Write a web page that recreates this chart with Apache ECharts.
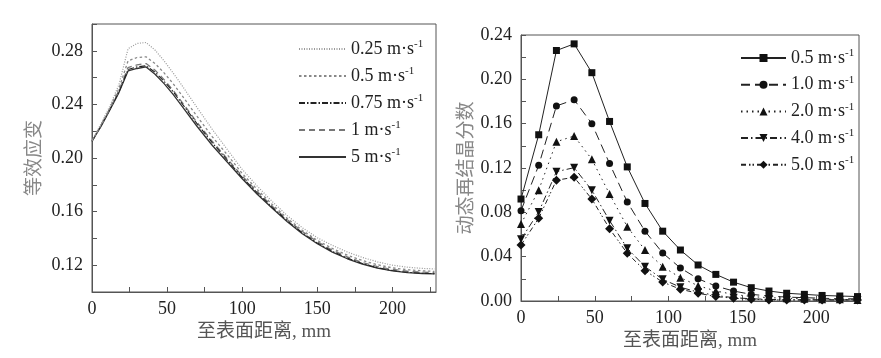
<!DOCTYPE html>
<html>
<head>
<meta charset="utf-8">
<script src="https://cdn.jsdelivr.net/npm/echarts@6/dist/echarts.min.js"></script>
<style>
html,body{margin:0;padding:0;background:#fff;}
#chart{width:881px;height:358px;}
</style>
</head>
<body>
<div id="chart"></div>
<script>
// ---- Left chart: 等效应变 ----
var leftX = [0,6,12,18,24,30,36,42,48,54,60,70,80,90,100,110,120,130,140,150,160,170,180,190,200,210,220,228];
var leftNames = ['0.25','0.5','0.75','1','5'];
var strain025 = [0.213,0.2255,0.239,0.255,0.2815,0.2855,0.2862,0.2805,0.2725,0.2635,0.254,0.2375,0.2215,0.2065,0.1915,0.179,0.1675,0.157,0.148,0.1405,0.1348,0.1298,0.1258,0.1225,0.12,0.1185,0.1176,0.1172];
var strain05  = [0.213,0.2245,0.2375,0.252,0.2725,0.275,0.2755,0.2705,0.2635,0.2555,0.2465,0.231,0.216,0.2025,0.1885,0.1765,0.1653,0.155,0.146,0.1385,0.1325,0.1275,0.1235,0.1203,0.118,0.1166,0.1158,0.1154];
var strain075 = [0.2125,0.224,0.2365,0.2495,0.266,0.268,0.2688,0.264,0.2572,0.2495,0.2405,0.2255,0.2115,0.1985,0.1855,0.174,0.1632,0.1532,0.1442,0.1366,0.1303,0.1253,0.1212,0.1181,0.116,0.1147,0.114,0.1137];
var strain1   = [0.2125,0.224,0.237,0.2505,0.2675,0.2695,0.2705,0.2655,0.2585,0.2505,0.2415,0.2265,0.2125,0.1995,0.1865,0.175,0.164,0.154,0.1452,0.1375,0.1312,0.1262,0.122,0.119,0.1168,0.1155,0.1148,0.1145];
var strain5   = [0.2125,0.2235,0.236,0.249,0.265,0.2668,0.268,0.2625,0.2555,0.2475,0.2385,0.2235,0.2095,0.197,0.1845,0.173,0.1625,0.1525,0.1435,0.136,0.1298,0.1248,0.1208,0.1178,0.1158,0.1145,0.1138,0.1135];

// ---- Right chart: 动态再结晶分数 ----
var rightX = [0,12,24,36,48,60,72,84,96,108,120,132,144,156,168,180,192,204,216,228];
var rightNames = ['0.5','1.0','2.0','4.0','5.0'];
var drx05 = [0.092,0.150,0.226,0.232,0.206,0.162,0.121,0.088,0.063,0.046,0.0325,0.024,0.017,0.012,0.009,0.007,0.006,0.005,0.0045,0.004];
var drx10 = [0.0815,0.1224,0.176,0.1816,0.160,0.124,0.0893,0.063,0.0433,0.0298,0.0200,0.0135,0.009,0.006,0.0045,0.0035,0.003,0.0025,0.002,0.002];
var drx20 = [0.0695,0.100,0.1437,0.1489,0.1278,0.0965,0.067,0.046,0.031,0.021,0.0138,0.009,0.006,0.004,0.003,0.0025,0.002,0.0015,0.0015,0.001];
var drx40 = [0.0557,0.0803,0.1167,0.1203,0.100,0.0725,0.0476,0.031,0.0196,0.0124,0.008,0.005,0.003,0.002,0.0015,0.001,0.001,0.001,0.001,0.001];
var drx50 = [0.0505,0.0746,0.109,0.1116,0.092,0.0652,0.043,0.0274,0.0171,0.0106,0.007,0.004,0.0025,0.0015,0.001,0.001,0.001,0.001,0.001,0.001];

function pairs(xs, ys){ return xs.map(function(x,i){ return [x, ys[i]]; }); }

var NUMFONT = '"Liberation Serif", "Times New Roman", serif';
var CJKFONT = '"Liberation Serif", "Noto Sans CJK SC", serif';

function legendFmt(name){ return '{a|' + name + ' m·s}{s|-1}'; }
var legendRich = {
  a: {fontFamily: NUMFONT, fontSize: 18, color: '#222', lineHeight: 20},
  s: {fontFamily: NUMFONT, fontSize: 11, color: '#222', verticalAlign: 'top', lineHeight: 20, padding: [0,0,6,0]}
};

function xAxisCfg(gridIndex, maxV, gap){
  return {
    type: 'value', gridIndex: gridIndex, min: 0, max: maxV, interval: 25,
    name: '至表面距离, mm', nameLocation: 'middle', nameGap: gap,
    nameTextStyle: {fontFamily: CJKFONT, fontSize: 19, color: '#555'},
    axisLine: {show: true, lineStyle: {color: '#555', width: 1}},
    axisTick: {show: true, inside: true, length: 5, lineStyle: {color: '#555'}},
    axisLabel: {margin: 8, fontFamily: NUMFONT, fontSize: 18, color: '#222',
      showMaxLabel: false,
      formatter: function(v){ return (Math.round(v) % 50 === 0) ? String(Math.round(v)) : ''; }},
    splitLine: {show: false}
  };
}
function yAxisCfg(gridIndex, minV, maxV, name, gap){
  return {
    type: 'value', gridIndex: gridIndex, min: minV, max: maxV, interval: 0.02,
    name: name, nameLocation: 'middle', nameGap: gap, nameRotate: 90,
    nameTextStyle: {fontFamily: '"Noto Sans CJK SC", sans-serif', fontSize: 19, color: '#888'},
    axisLine: {show: true, lineStyle: {color: '#555', width: 1}},
    axisTick: {show: true, inside: true, length: 5, lineStyle: {color: '#555'}},
    axisLabel: {margin: 9, fontFamily: NUMFONT, fontSize: 18, color: '#222',
      formatter: function(v){
        var k = Math.round(v * 100);
        if (k % 4 !== 0) return '';
        if (minV > 0 && k === Math.round(minV*100)) return '';
        return (k/100).toFixed(2);
      }},
    splitLine: {show: false}
  };
}

var leftStyles = [
  {color: '#999', width: 1.2, type: [1, 1.5]},
  {color: '#888', width: 1.3, type: [2.5, 2.5]},
  {color: '#222', width: 1.1, type: [6, 2, 1.5, 2]},
  {color: '#777', width: 1.3, type: [6, 4]},
  {color: '#333', width: 1.3, type: 'solid'}
];
var leftData = [strain025, strain05, strain075, strain1, strain5];

var rightStyles = [
  {type: 'solid', symbol: 'rect', size: 7, rotate: 0},
  {type: [9, 5], symbol: 'circle', size: 7, rotate: 0},
  {type: [1.5, 4], symbol: 'triangle', size: 8, rotate: 0},
  {type: [7, 3, 1.5, 3], symbol: 'triangle', size: 8, rotate: 180},
  {type: [5, 3, 1.5, 2, 1.5, 3], symbol: 'diamond', size: 9, rotate: 0}
];
var rightData = [drx05, drx10, drx20, drx40, drx50];

var series = [];
leftNames.forEach(function(n, i){
  series.push({
    name: n, type: 'line', xAxisIndex: 0, yAxisIndex: 0,
    data: pairs(leftX, leftData[i]), symbol: 'none', showSymbol: false,
    lineStyle: leftStyles[i], itemStyle: {color: leftStyles[i].color},
    animation: false, z: 10 - i
  });
});
rightNames.forEach(function(n, i){
  var s = rightStyles[i];
  series.push({
    name: 'R' + n, type: 'line', xAxisIndex: 1, yAxisIndex: 1,
    data: pairs(rightX, rightData[i]), symbol: s.symbol, symbolSize: s.size, symbolRotate: s.rotate,
    lineStyle: {color: '#222', width: 1, type: s.type}, itemStyle: {color: '#111'},
    animation: false
  });
});

var chart = echarts.init(document.getElementById('chart'), null, {renderer: 'canvas'});
chart.setOption({
  backgroundColor: '#fff',
  animation: false,
  grid: [
    {left: 92, top: 24, width: 344, height: 268, show: true, borderColor: '#555', borderWidth: 1, containLabel: false},
    {left: 521, top: 35, width: 338, height: 266, show: true, borderColor: '#555', borderWidth: 1, containLabel: false}
  ],
  xAxis: [xAxisCfg(0, 229, 31), xAxisCfg(1, 229, 31)],
  yAxis: [yAxisCfg(0, 0.10, 0.30, '等效应变', 50), yAxisCfg(1, 0, 0.24, '动态再结晶分数', 47)],
  legend: [
    {data: leftNames, orient: 'vertical', left: 293, top: 34, itemWidth: 47, itemHeight: 14, itemGap: 8,
     itemStyle: {opacity: 0},
     formatter: legendFmt, textStyle: {rich: legendRich}},
    {data: rightNames.map(function(n){return 'R' + n;}), orient: 'vertical', left: 735, top: 43, itemWidth: 45, itemHeight: 10, itemGap: 7.7,
     formatter: function(n){ return legendFmt(n.substring(1)); }, textStyle: {rich: legendRich}}
  ],
  series: series
});
</script>
</body>
</html>
